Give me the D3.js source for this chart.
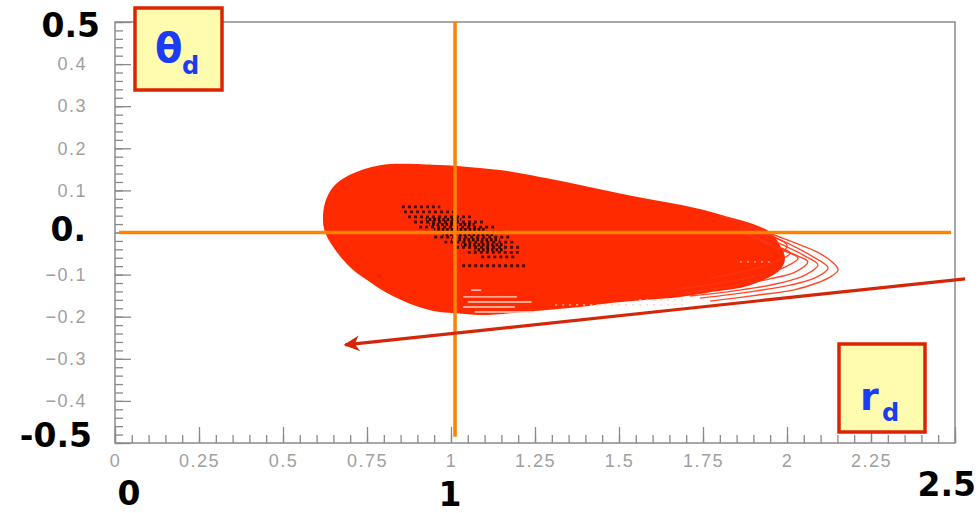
<!DOCTYPE html>
<html>
<head>
<meta charset="utf-8">
<script src="https://cdn.jsdelivr.net/npm/d3@7/dist/d3.min.js"></script>
<style>
  html, body { margin: 0; padding: 0; background: #fff; }
  svg { display: block; }
</style>
</head>
<body>
<svg id="chart" width="978" height="513"></svg>
<script>
// Axis ticks (major, labelled)
const xTicks = [0, 0.25, 0.5, 0.75, 1, 1.25, 1.5, 1.75, 2, 2.25, 2.5];
const yTicks = [-0.5, -0.4, -0.3, -0.2, -0.1, 0, 0.1, 0.2, 0.3, 0.4, 0.5];
// Tick labels hidden under the large value labels
const xHidden = [2.5];
const yHidden = [-0.5, 0, 0.5];

// Outer envelope of the (r_d, theta_d) trajectory band
const envelope = [
  [0.699, 0.137], [0.789, 0.160], [0.946, 0.161], [1.018, 0.158], [1.086, 0.153],
  [1.185, 0.144], [1.286, 0.129], [1.384, 0.113], [1.482, 0.096], [1.583, 0.080],
  [1.682, 0.066], [1.750, 0.054], [1.821, 0.038], [1.899, 0.020], [1.949, 0.001],
  [1.979, -0.030], [1.994, -0.062], [1.979, -0.089], [1.890, -0.125], [1.780, -0.141],
  [1.682, -0.153], [1.583, -0.160], [1.482, -0.167], [1.384, -0.177], [1.286, -0.184],
  [1.185, -0.191], [1.086, -0.196], [1.018, -0.192], [0.967, -0.189], [0.887, -0.172],
  [0.810, -0.144], [0.750, -0.113], [0.699, -0.082], [0.649, -0.034], [0.625, 0.001],
  [0.619, 0.030], [0.625, 0.070], [0.649, 0.108]
];

// Individual trajectories that reach past the dense band (outermost first)
const loopA = [[1.860, 0.025], [2.018, -0.023], [2.089, -0.046], [2.137, -0.072], [2.152, -0.089], [2.128, -0.106], [2.089, -0.120], [2.018, -0.137], [1.920, -0.148], [1.771, -0.163]];
const loopB = [[1.860, 0.020], [2.009, -0.028], [2.074, -0.056], [2.122, -0.084], [2.083, -0.108], [2.009, -0.125], [1.890, -0.141], [1.741, -0.156]];
const loopC = [[1.860, 0.015], [1.994, -0.032], [2.054, -0.056], [2.092, -0.077], [2.054, -0.101], [1.979, -0.120], [1.860, -0.137], [1.711, -0.151]];
const loopD = [[1.860, 0.011], [1.979, -0.037], [2.033, -0.056], [2.062, -0.070], [2.024, -0.094], [1.949, -0.110], [1.830, -0.129], [1.682, -0.144]];
const loopE = [[1.860, 0.006], [1.964, -0.037], [2.009, -0.049], [2.033, -0.061], [1.994, -0.082], [1.920, -0.101], [1.801, -0.120], [1.652, -0.137]];
const loopF = [[1.860, 0.001], [1.949, -0.027], [2.009, -0.049], [1.964, -0.070], [1.890, -0.089], [1.771, -0.108]];
const loopG = [[1.800, 0.040], [1.900, 0.012], [1.960, -0.010], [2.000, -0.030], [1.985, -0.050]];
const loops = [loopA, loopB, loopC, loopD, loopE, loopF, loopG];

// Unfilled streaks near the lower edge: [theta, r start, r end]
const gaps = [
  [-0.137, 1.060, 1.090],
  [-0.153, 1.036, 1.196],
  [-0.165, 1.050, 1.240],
  [-0.177, 1.036, 1.190],
  [-0.189, 1.070, 1.240]
];
const sparseGaps = [[-0.172, 1.310, 1.690], [-0.160, 1.560, 1.700], [-0.070, 1.860, 1.960]];

// Cloud of starting points around (1, 0): rows [theta, r start, r end]
const cloudRows = [
  [0.061, 0.854, 0.968],
  [0.049, 0.860, 1.020],
  [0.037, 0.872, 1.065],
  [0.025, 0.890, 1.100],
  [0.013, 0.905, 1.130],
  [0.001, 0.925, 1.155],
  [-0.011, 0.950, 1.175],
  [-0.023, 0.980, 1.190],
  [-0.035, 1.015, 1.205],
  [-0.047, 1.050, 1.205],
  [-0.058, 1.090, 1.195],
  [-0.079, 1.033, 1.222]
];
const cloudCore = [
  [0.031, 0.925, 1.030],
  [0.019, 0.935, 1.070],
  [0.007, 0.950, 1.100],
  [-0.005, 0.975, 1.125],
  [-0.017, 1.000, 1.145],
  [-0.029, 1.030, 1.160],
  [-0.041, 1.070, 1.160]
];

// Reference cross-hair and the drift arrow, in data units
const crossR = 1.012;
const crossTheta = 0;
const arrowFrom = [2.530, -0.110];
const arrowTo = [0.685, -0.267];

const svg = d3.select("#chart");
const W = 978, H = 513;
const x = d3.scaleLinear().domain([0, 2.5]).range([115, 955]);
const y = d3.scaleLinear().domain([-0.5, 0.5]).range([443, 22]);

svg.append("rect").attr("width", W).attr("height", H).attr("fill", "#fff");

// Frame
const axisGrey = "#8a8a8a";
svg.append("rect")
  .attr("x", x(0)).attr("y", y(0.5))
  .attr("width", x(2.5) - x(0)).attr("height", y(-0.5) - y(0.5))
  .attr("fill", "none").attr("stroke", axisGrey).attr("stroke-width", 1.5);

// Minor ticks
const xMinor = svg.append("g").attr("transform", `translate(0,${y(-0.5)})`)
  .call(d3.axisBottom(x).tickValues(x.ticks(50)).tickSize(-8).tickFormat(""));
const yMinor = svg.append("g").attr("transform", `translate(${x(0)},0)`)
  .call(d3.axisLeft(y).tickValues(y.ticks(50)).tickSize(-8).tickFormat(""));

// Major ticks + labels
const fmt = d3.format("");
const xAxis = svg.append("g").attr("transform", `translate(0,${y(-0.5)})`)
  .call(d3.axisBottom(x).tickValues(xTicks).tickSize(-16).tickPadding(11)
    .tickFormat(d => xHidden.includes(d) ? "" : fmt(d)));
const yAxis = svg.append("g").attr("transform", `translate(${x(0)},0)`)
  .call(d3.axisLeft(y).tickValues(yTicks).tickSize(-16).tickPadding(28)
    .tickFormat(d => yHidden.includes(d) ? "" : fmt(d)));

[xMinor, yMinor, xAxis, yAxis].forEach(g => {
  g.select(".domain").remove();
  g.selectAll("line").attr("stroke", axisGrey).attr("stroke-width", 1.3);
  g.selectAll("text")
    .attr("fill", "#a0a0a0")
    .style("font-family", "'Liberation Sans', Arial, sans-serif")
    .style("font-size", "18px")
    .style("letter-spacing", "1.5px");
});

// Trajectory band
const band = d3.line().x(d => x(d[0])).y(d => y(d[1])).curve(d3.curveCatmullRomClosed.alpha(0.5));
svg.append("path").attr("d", band(envelope)).attr("fill", "#ff2a00");

const open = d3.line().x(d => x(d[0])).y(d => y(d[1])).curve(d3.curveCatmullRom.alpha(0.5));
svg.append("g").selectAll("path").data(loops).join("path")
  .attr("d", open)
  .attr("fill", "none")
  .attr("stroke", "#ff3414")
  .attr("stroke-width", 1.4)
  .attr("opacity", 0.9);

svg.append("g").selectAll("line").data(gaps).join("line")
  .attr("x1", d => x(d[1])).attr("x2", d => x(d[2]))
  .attr("y1", d => y(d[0])).attr("y2", d => y(d[0]))
  .attr("stroke", "#ffd6cc").attr("stroke-width", 1.4);
svg.append("g").selectAll("line").data(sparseGaps).join("line")
  .attr("x1", d => x(d[1])).attr("x2", d => x(d[2]))
  .attr("y1", d => y(d[0])).attr("y2", d => y(d[0]))
  .attr("stroke", "#ffc8b8").attr("stroke-width", 1.2)
  .attr("stroke-dasharray", "2,5");

// Starting-point cloud
svg.append("g").selectAll("line").data(cloudRows).join("line")
  .attr("x1", d => x(d[1])).attr("x2", d => x(d[2]))
  .attr("y1", d => y(d[0])).attr("y2", d => y(d[0]))
  .attr("stroke", "#200500").attr("stroke-width", 2.8)
  .attr("stroke-dasharray", "3,3").attr("opacity", 0.8);
svg.append("g").selectAll("line").data(cloudCore).join("line")
  .attr("x1", d => x(d[1])).attr("x2", d => x(d[2]))
  .attr("y1", d => y(d[0])).attr("y2", d => y(d[0]))
  .attr("stroke", "#000").attr("stroke-width", 3)
  .attr("stroke-dasharray", "2.5,2").attr("stroke-dashoffset", 1.5).attr("opacity", 0.85);

// Cross-hair
const orange = "#ff8200";
svg.append("line")
  .attr("x1", x(0.012)).attr("x2", x(2.488))
  .attr("y1", y(crossTheta)).attr("y2", y(crossTheta))
  .attr("stroke", orange).attr("stroke-width", 3.5);
svg.append("line")
  .attr("x1", x(crossR)).attr("x2", x(crossR))
  .attr("y1", y(0.5)).attr("y2", y(-0.485))
  .attr("stroke", orange).attr("stroke-width", 3.5);

// Drift arrow
const arrowColor = "#d42608";
svg.append("defs").append("marker")
  .attr("id", "head").attr("viewBox", "0 0 10 10")
  .attr("refX", 9).attr("refY", 5)
  .attr("markerWidth", 7).attr("markerHeight", 5).attr("orient", "auto")
  .attr("markerUnits", "strokeWidth")
  .append("path").attr("d", "M0,0 L10,5 L0,10 L3,5 Z").attr("fill", arrowColor);
svg.append("line")
  .attr("x1", x(arrowFrom[0])).attr("y1", y(arrowFrom[1]))
  .attr("x2", x(arrowTo[0])).attr("y2", y(arrowTo[1]))
  .attr("stroke", arrowColor).attr("stroke-width", 3.2)
  .attr("marker-end", "url(#head)");

// Variable boxes
function varBox(bx, by, bw, bh, main, sub, mainSize, subSize, mx, my, sx, sy) {
  const g = svg.append("g");
  g.append("rect").attr("x", bx).attr("y", by).attr("width", bw).attr("height", bh)
    .attr("fill", "#fffbaf").attr("stroke", "#dd2400").attr("stroke-width", 3.5);
  g.append("text").attr("x", mx).attr("y", my).text(main)
    .attr("fill", "#1b3cf2").style("font-family", "'DejaVu Sans', sans-serif")
    .style("font-weight", "bold").style("font-size", mainSize + "px");
  g.append("text").attr("x", sx).attr("y", sy).text(sub)
    .attr("fill", "#1b3cf2").style("font-family", "'DejaVu Sans', sans-serif")
    .style("font-weight", "bold").style("font-size", subSize + "px");
}
varBox(135, 8, 87, 82, "θ", "d", 40, 24, 155, 62, 182, 74);
varBox(839, 344, 86, 88, "r", "d", 38, 24, 860, 410, 882, 421);

// Large value labels
function bigLabel(t, lx, ly, anchor) {
  svg.append("text").attr("x", lx).attr("y", ly).text(t)
    .attr("text-anchor", anchor)
    .attr("fill", "#000")
    .style("font-family", "'DejaVu Sans', sans-serif")
    .style("font-weight", "bold").style("font-size", "33px");
}
bigLabel("0.5", 100, 37, "end");
bigLabel("0.", 86, 241, "end");
bigLabel("-0.5", 92, 447, "end");
bigLabel("0", 129, 505, "middle");
bigLabel("1", 450, 506, "middle");
bigLabel("2.5", 976, 496, "end");
</script>
</body>
</html>
